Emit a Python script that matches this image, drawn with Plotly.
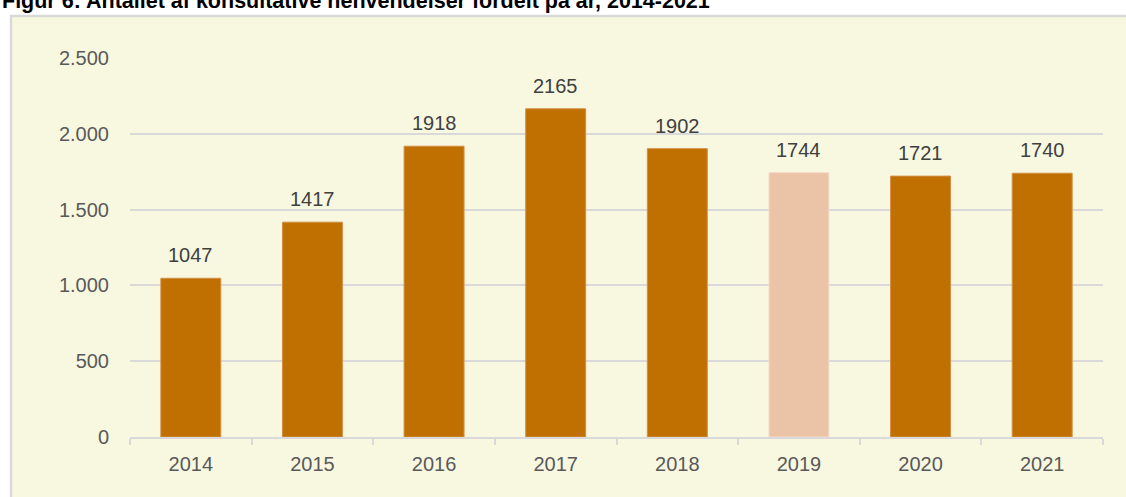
import plotly.graph_objects as go

years = ["2014", "2015", "2016", "2017", "2018", "2019", "2020", "2021"]
values = [1047, 1417, 1918, 2165, 1902, 1744, 1721, 1740]
bar_colors = ["#C07000"] * 5 + ["#EBC4A8"] + ["#C07000"] * 2
edge_colors = ["#D38F45"] * 5 + ["#F6DCCB"] + ["#D38F45"] * 2
y_tickvals = [0, 500, 1000, 1500, 2000, 2500]
y_ticktext = ["0", "500", "1.000", "1.500", "2.000", "2.500"]
title_text = "Figur 6: Antallet af konsultative henvendelser fordelt på år, 2014-2021"

FONT = "Liberation Sans, Arial"
FS = 20
W, H = 1126, 497
L, R, T, B = 130, 23, 58, 60
pw, ph = W - L - R, H - T - B

fig = go.Figure(go.Bar(
    x=years, y=values,
    marker=dict(color=bar_colors, line=dict(color=edge_colors, width=1)),
    hoverinfo="x+y",
))

for i, v in enumerate(values):
    fig.add_annotation(x=i, y=v, text=str(v), showarrow=False,
                       yanchor="middle", yshift=23,
                       font=dict(family=FONT, size=FS, color="#404040"))

fig.add_shape(type="rect", xref="paper", yref="paper",
              x0=(11 - L) / pw, x1=(W + 20 - L) / pw,
              y0=-(B + 20) / ph, y1=(H - B - 16) / ph,
              line=dict(color="#D9D9D9", width=2.5), fillcolor="#F8F8E1", layer="below")

fig.add_annotation(text="<b>" + title_text + "</b>", xref="paper", yref="paper",
                   x=-L / pw, y=(H - B - 15) / ph, xanchor="left", yanchor="bottom",
                   showarrow=False,
                   font=dict(family=FONT, size=21.5, color="#000000"))

fig.update_layout(
    width=W, height=H, margin=dict(l=L, r=R, t=T, b=B),
    paper_bgcolor="white", plot_bgcolor="rgba(0,0,0,0)",
    bargap=0.507, showlegend=False,
    xaxis=dict(type="category", range=[-0.5, len(years) - 0.5], autorange=False,
               showline=True, linecolor="#D9D9D9", linewidth=2,
               ticks="outside", tickson="boundaries", ticklen=6, tickcolor="#D9D9D9", tickwidth=2,
               ticklabelstandoff=8, tickangle=0,
               tickfont=dict(family=FONT, size=FS, color="#595959"),
               showgrid=False),
    yaxis=dict(range=[0, 2500], tickvals=y_tickvals, ticktext=y_ticktext,
               showgrid=True, gridcolor="#D9D9D9", gridwidth=2, zeroline=False,
               ticks="", ticklabelstandoff=20,
               tickfont=dict(family=FONT, size=FS, color="#595959")),
)

fig.write_html("out.html", config={"displayModeBar": False},
               post_script="document.body.style.margin='0px';")
